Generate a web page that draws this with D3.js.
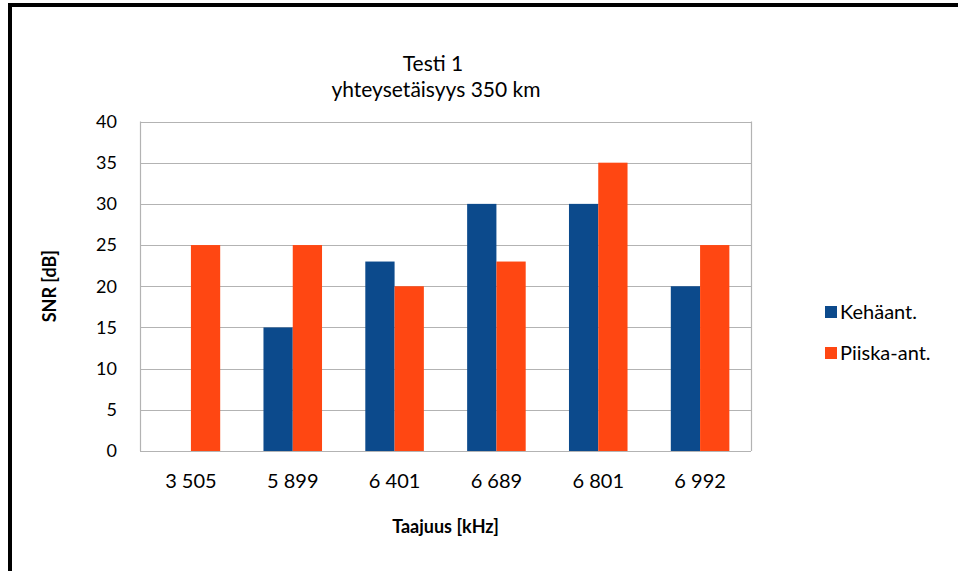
<!DOCTYPE html>
<html>
<head>
<meta charset="utf-8">
<script src="https://cdn.jsdelivr.net/npm/d3@7"></script>
<style>
  body { margin: 0; background: #fff; }
  text { font-family: Lato, "Open Sans", sans-serif; fill: #000; }
</style>
</head>
<body>
<div id="chart"></div>
<script>
// data
var categories = ["3 505", "5 899", "6 401", "6 689", "6 801", "6 992"]
var seriesNames = ["Kehäant.", "Piiska-ant."]
var kehaant = [0, 15, 23, 30, 30, 20]
var piiska = [25, 25, 20, 23, 35, 25]
var yTicks = [0, 5, 10, 15, 20, 25, 30, 35, 40]
var colors = ["#0c4a8c", "#ff4712"]

var width = 958
var height = 571
var plot = { left: 140, right: 751, top: 121.5, bottom: 451 }

var svg = d3.select("#chart")
  .append("svg")
    .attr("width", width)
    .attr("height", height)

// frame (only top and left edges are visible in the picture)
svg.append("path")
  .attr("d", "M10,571 V5 H958")
  .attr("fill", "none")
  .attr("stroke", "#000")
  .attr("stroke-width", 4)

var x0 = d3.scaleBand()
  .domain(categories)
  .range([plot.left, plot.right])
  .paddingInner(0.425)
  .paddingOuter(0.2125)

var x1 = d3.scaleBand()
  .domain(seriesNames)
  .range([0, x0.bandwidth()])

var y = d3.scaleLinear()
  .domain([0, 40])
  .range([plot.bottom, plot.top])

// gridlines
svg.append("g")
  .selectAll("line")
  .data(yTicks)
  .enter()
  .append("line")
    .attr("x1", plot.left)
    .attr("x2", plot.right)
    .attr("y1", function(d){ return Math.round(y(d)) + 0.5 })
    .attr("y2", function(d){ return Math.round(y(d)) + 0.5 })
    .attr("stroke", "#b3b3b3")
    .attr("stroke-width", 1.2)

// plot area side edges
svg.append("line")
  .attr("x1", plot.left + 0.5).attr("x2", plot.left + 0.5)
  .attr("y1", plot.top).attr("y2", plot.bottom)
  .attr("stroke", "#b3b3b3").attr("stroke-width", 1.2)
svg.append("line")
  .attr("x1", plot.right + 0.5).attr("x2", plot.right + 0.5)
  .attr("y1", plot.top).attr("y2", plot.bottom)
  .attr("stroke", "#b3b3b3").attr("stroke-width", 1.2)

// bars
var rows = categories.map(function(c, i){
  return { cat: c, values: [kehaant[i], piiska[i]] }
})

svg.append("g")
  .selectAll("g")
  .data(rows)
  .enter()
  .append("g")
    .attr("transform", function(d){ return "translate(" + x0(d.cat) + ",0)" })
  .selectAll("rect")
  .data(function(d){ return d.values.map(function(v, j){ return { name: seriesNames[j], value: v, j: j } }) })
  .enter()
  .append("rect")
    .attr("x", function(d){ return x1(d.name) })
    .attr("width", x1.bandwidth())
    .attr("y", function(d){ return y(d.value) })
    .attr("height", function(d){ return y(0) - y(d.value) })
    .attr("fill", function(d){ return colors[d.j] })

// y axis labels
var yAxis = svg.append("g")
  .attr("transform", "translate(" + plot.left + ",0)")
  .call(d3.axisLeft(y).tickValues(yTicks).tickSize(0).tickPadding(23))
yAxis.select(".domain").remove()
yAxis.selectAll("text")
  .attr("font-size", 18)
  .attr("font-family", "Lato, sans-serif")
  .attr("fill", "#000")

// x axis labels
var xAxis = svg.append("g")
  .attr("transform", "translate(0," + plot.bottom + ")")
  .call(d3.axisBottom(x0).tickSize(0).tickPadding(23))
xAxis.select(".domain").remove()
xAxis.selectAll("text")
  .attr("font-size", 20)
  .attr("font-family", "Lato, sans-serif")
  .attr("fill", "#000")

// titles
svg.append("text")
  .attr("x", 433).attr("y", 71)
  .attr("text-anchor", "middle")
  .attr("font-size", 21)
  .attr("fill", "#3a3a3a")
  .text("Testi 1")
svg.append("text")
  .attr("x", 436).attr("y", 97)
  .attr("text-anchor", "middle")
  .attr("font-size", 21)
  .attr("fill", "#3a3a3a")
  .text("yhteysetäisyys 350 km")

svg.append("text")
  .attr("x", (plot.left + plot.right) / 2).attr("y", 533)
  .attr("text-anchor", "middle")
  .attr("font-size", 18)
  .attr("font-weight", "bold")
  .text("Taajuus [kHz]")

svg.append("text")
  .attr("transform", "translate(56," + (plot.top + plot.bottom) / 2 + ") rotate(-90)")
  .attr("text-anchor", "middle")
  .attr("font-size", 18)
  .attr("font-weight", "bold")
  .text("SNR [dB]")

// legend
var legend = svg.append("g")
  .selectAll("g")
  .data(seriesNames)
  .enter()
  .append("g")
    .attr("transform", function(d, i){ return "translate(825," + (306 + i * 41) + ")" })
legend.append("rect")
  .attr("width", 12).attr("height", 12)
  .attr("fill", function(d, i){ return colors[i] })
legend.append("text")
  .attr("x", 15).attr("y", 12.5)
  .attr("font-size", 20)
  .text(function(d){ return d })
</script>
</body>
</html>
